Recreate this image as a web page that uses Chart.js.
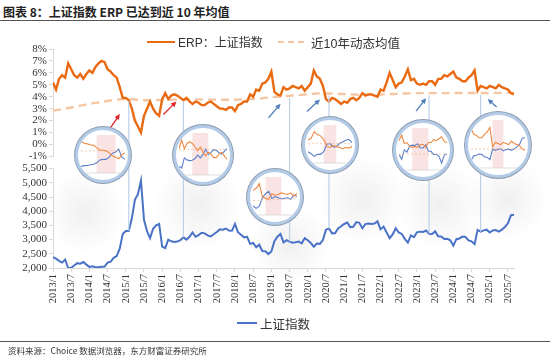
<!DOCTYPE html>
<html><head><meta charset="utf-8">
<script src="https://cdn.jsdelivr.net/npm/chart.js@4.4.1/dist/chart.umd.min.js"></script>
<style>
html,body{margin:0;padding:0;background:#fff;}
body{width:550px;height:359px;overflow:hidden;position:relative;font-family:"Liberation Serif",serif;}
.abs{position:absolute;}
#title{left:3px;top:3px;font:bold 12px "Noto Sans CJK SC","Liberation Sans",sans-serif;color:#222;white-space:nowrap;}
#tline{left:0;top:20px;width:550px;height:0;border-top:1.5px solid #555;}
#sline{left:0;top:341px;width:550px;height:0;border-top:1.5px solid #555;}
#source{left:8px;top:344px;font:8.5px "Noto Sans CJK SC","Liberation Sans",sans-serif;color:#333;white-space:nowrap;}
.leg{font:12.5px "Liberation Sans","Noto Sans CJK SC",sans-serif;color:#333;white-space:nowrap;}
.shadow{border-radius:50%;background:radial-gradient(closest-side,rgba(0,0,0,0.06),rgba(0,0,0,0.025) 60%,rgba(0,0,0,0));}
.circ{border-radius:50%;overflow:hidden;background:#fff;box-sizing:border-box;border:3px solid #b3cbe6;box-shadow:0 0 0 1px #8d9cb0;}
.circ canvas{position:absolute;left:0;top:0;}
</style>
</head><body>
<div id="title" class="abs">图表 8：上证指数 ERP 已达到近 10 年均值</div>
<div id="tline" class="abs"></div>

<div id="shadows"></div>
<canvas id="top" class="abs" width="550" height="125" style="left:0;top:40px;"></canvas>
<canvas id="bot" class="abs" width="550" height="150" style="left:0;top:160px;"></canvas>
<canvas id="ovl" class="abs" width="550" height="359" style="left:0;top:0;"></canvas>
<div id="circles"></div>

<div class="abs" style="left:147px;top:41px;width:28px;height:0;border-top:2.5px solid #ea6a12;"></div>
<div class="abs leg" style="left:178px;top:33px;font-size:12px;">ERP：上证指数</div>
<div class="abs" style="left:278px;top:41px;width:26px;height:0;border-top:2.5px dashed #f6c8a6;"></div>
<div class="abs leg" style="left:311px;top:33px;">近10年动态均值</div>

<div class="abs" style="left:237px;top:322px;width:20px;height:0;border-top:2px solid #4a72c6;"></div>
<div class="abs leg" style="left:260px;top:314px;">上证指数</div>

<div id="sline" class="abs"></div>
<div id="source" class="abs">资料来源：Choice 数据浏览器，东方财富证券研究所</div>

<script>
// ---------- data ----------
const months = [];
for (let y = 2013; y <= 2025; y++) for (let m = 1; m <= 12; m++) { if (y === 2025 && m > 9) break; months.push(y + '/' + m); }

const tickLabels = ['2013/1','2013/7','2014/1','2014/7','2015/1','2015/7','2016/1','2016/7','2017/1','2017/7',
  '2018/1','2018/7','2019/1','2019/7','2020/1','2020/7','2021/1','2021/7','2022/1','2022/7','2023/1','2023/7',
  '2024/1','2024/7','2025/1','2025/7'];

// ERP of SSE index, %
const erp = [
  5.2,4.6,5.5,5.8,5.6,6.8,6.3,5.8,5.6,5.9,5.5,5.9,
  6.2,6.0,6.5,6.8,7.0,6.9,6.3,6.1,5.8,5.6,4.8,3.9,
  3.9,3.7,3.0,2.0,1.5,1.0,2.4,3.0,3.6,3.0,2.6,2.4,
  3.8,4.3,3.8,4.1,4.2,4.1,3.9,3.7,3.9,3.6,3.4,3.6,
  3.5,3.3,3.3,3.5,3.6,3.4,3.2,3.0,3.0,2.9,3.1,3.1,
  2.8,3.3,3.4,3.6,3.6,4.2,4.0,4.6,4.5,5.1,5.2,5.5,
  6.1,4.4,4.2,4.1,4.8,4.6,4.7,4.9,4.8,4.7,4.9,4.5,
  4.8,5.1,6.2,5.7,5.5,4.9,3.8,3.6,3.9,3.8,3.6,3.4,
  3.6,3.5,3.8,3.9,3.7,3.9,4.3,4.1,4.2,4.2,4.1,4.0,
  4.6,4.5,5.2,6.0,5.4,4.8,5.1,5.2,5.7,6.3,5.4,5.5,
  5.1,5.0,5.1,5.0,5.3,5.3,5.0,5.5,5.5,5.8,5.7,5.9,
  6.1,5.6,5.5,5.3,5.3,5.6,5.8,6.2,4.5,4.9,4.8,4.7,
  4.9,4.8,4.7,5.0,4.8,4.7,4.6,4.3,4.2
];

// 10-year rolling mean of ERP, %
const erpMean = [
  2.85,2.88,2.92,2.96,3.00,3.05,3.10,3.15,3.20,3.25,3.30,3.35,
  3.40,3.44,3.48,3.52,3.56,3.60,3.64,3.68,3.72,3.75,3.78,3.80,
  3.80,3.80,3.79,3.77,3.75,3.72,3.70,3.70,3.71,3.71,3.72,3.72,
  3.73,3.74,3.74,3.75,3.76,3.76,3.77,3.77,3.77,3.77,3.77,3.77,
  3.77,3.77,3.77,3.76,3.76,3.76,3.76,3.75,3.75,3.75,3.75,3.75,
  3.75,3.76,3.77,3.78,3.79,3.80,3.81,3.83,3.85,3.87,3.90,3.93,
  3.96,3.98,4.00,4.02,4.04,4.06,4.08,4.10,4.12,4.14,4.16,4.18,
  4.20,4.22,4.25,4.27,4.28,4.28,4.28,4.27,4.26,4.25,4.24,4.23,
  4.22,4.21,4.20,4.19,4.18,4.17,4.16,4.16,4.16,4.16,4.17,4.18,
  4.19,4.20,4.21,4.22,4.23,4.24,4.25,4.26,4.27,4.28,4.29,4.30,
  4.30,4.30,4.30,4.30,4.30,4.30,4.30,4.30,4.30,4.30,4.30,4.30,
  4.31,4.31,4.31,4.31,4.31,4.31,4.31,4.31,4.31,4.31,4.31,4.31,
  4.32,4.32,4.32,4.32,4.32,4.32,4.32,4.32,4.32
];

// SSE Composite index
const sse = [
  2380,2330,2250,2190,2300,2000,2010,2090,2170,2150,2210,2120,
  2040,2060,2030,2030,2040,2050,2190,2220,2360,2420,2680,3200,
  3300,3300,3750,4400,4600,5080,3700,3300,3050,3380,3500,3550,
  2750,2700,3000,2940,2920,2930,2980,3080,3000,3100,3250,3100,
  3160,3240,3220,3150,3110,3190,3270,3360,3350,3390,3320,3310,
  3550,3260,3170,3080,3100,2850,2880,2730,2820,2600,2590,2490,
  2580,2940,3100,3200,2900,2980,2930,2890,2905,2930,2870,3050,
  2980,2880,2750,2860,2850,2985,3350,3395,3220,3225,3390,3470,
  3550,3600,3440,3450,3615,3590,3400,3545,3570,3550,3565,3640,
  3360,3460,3250,3050,3185,3400,3250,3200,3025,2895,3150,3090,
  3255,3280,3270,3320,3205,3200,3290,3120,3110,3020,3030,2975,
  2790,3015,3040,3105,3090,2970,2940,2840,3340,3280,3325,3350,
  3250,3320,3335,3280,3350,3445,3575,3860,3880
];

// magnified events (ERP crossing its 10-year mean)
const events = ['2015/2','2016/8','2019/7','2020/8','2023/5','2024/10'];

// ---------- helpers ----------
const pts = arr => arr.map((v, i) => ({x: i, y: v}));
const idx = lab => months.indexOf(lab);
const tickFont = {family: 'Liberation Serif', size: 11};
const axisCol = '#d9d9d9';
const last = months.length - 1;

const topChart = new Chart(document.getElementById('top'), {
  type: 'line',
  data: {datasets: [
    {label: 'ERP：上证指数', data: pts(erp), borderColor: '#ea6a12', borderWidth: 2.4, pointRadius: 0, tension: 0},
    {label: '近10年动态均值', data: pts(erpMean), borderColor: '#f6c6a2', borderWidth: 2.4, borderDash: [8, 5], pointRadius: 0}
  ]},
  options: {
    animation: false, responsive: false, events: [],
    layout: {padding: {top: 9, bottom: 8, left: 0, right: 36}},
    plugins: {legend: {display: false}, tooltip: {enabled: false}},
    scales: {
      x: {type: 'linear', min: 0, max: last, display: false},
      y: {min: -1, max: 8, afterFit: s => { s.width = 53; },
        ticks: {stepSize: 1, autoSkip: false, callback: v => v + '%', font: tickFont, color: '#333', padding: 2},
        grid: {drawOnChartArea: false, tickLength: 4, color: axisCol}, border: {color: axisCol}}
    }
  }
});

const botChart = new Chart(document.getElementById('bot'), {
  type: 'line',
  data: {datasets: [
    {label: '上证指数', data: pts(sse), borderColor: '#4a72c6', borderWidth: 2, pointRadius: 0, tension: 0}
  ]},
  options: {
    animation: false, responsive: false, events: [],
    layout: {padding: {top: 7, bottom: 0, left: 0, right: 36}},
    plugins: {legend: {display: false}, tooltip: {enabled: false}},
    scales: {
      x: {type: 'linear', min: 0, max: last,
        afterBuildTicks: s => { s.ticks = tickLabels.map(l => ({value: idx(l)})); },
        afterFit: s => { s.height = 42; },
        ticks: {minRotation: 90, maxRotation: 90, autoSkip: false, font: {family: 'Liberation Serif', size: 10.5}, color: '#333', padding: 2,
          callback: v => months[v]},
        grid: {drawOnChartArea: false, tickLength: 4, color: axisCol}, border: {color: axisCol}},
      y: {min: 2000, max: 5500, afterFit: s => { s.width = 53; },
        ticks: {stepSize: 500, autoSkip: false, callback: v => v.toLocaleString('en-US'), font: tickFont, color: '#333', padding: 2},
        grid: {drawOnChartArea: false, tickLength: 4, color: axisCol}, border: {color: axisCol}}
    }
  }
});

// ---------- decorations: connectors, arrows, lenses ----------
const TOP_OFF = 40, BOT_OFF = 160;
// arrow: tail (tx,ty) and tip (hx,hy) offsets from the crossing point
const lens = [
  {cx: 103, cy: 155, r: 28, w0: 17, w1: 31, b0: 22, b1: 28, arrow: {tx: -22, ty: 34, hx: -9, hy: 15, c: '#e0262b'}},
  {cx: 203, cy: 155, r: 30, w0: 36, w1: 54, b0: 41, b1: 47, arrow: {tx: -20, ty: 15, hx: -7, hy: 2, c: '#e0262b'}},
  {cx: 275, cy: 197, r: 28, w0: 70, w1: 84, b0: 74, b1: 79, arrow: {tx: -21, ty: 22, hx: -9, hy: 8, c: '#4f7fbf'}},
  {cx: 330, cy: 145, r: 28, w0: 84, w1: 98, b0: 89, b1: 93, arrow: {tx: -22, ty: 18, hx: -9, hy: 6, c: '#4f7fbf'}},
  {cx: 423, cy: 150, r: 30, w0: 116, w1: 134, b0: 121, b1: 127, arrow: {tx: -13, ty: 18, hx: -3, hy: 5, c: '#4f7fbf'}},
  {cx: 498, cy: 145, r: 33, w0: 132, w1: 152, b0: 140, b1: 144, arrow: {tx: 16, ty: 14, hx: 7, hy: 6, c: '#4f7fbf'}}
];

const shadowsEl = document.getElementById('shadows');
[[85, 212, 42], [198, 205, 45], [290, 245, 40], [362, 200, 45], [440, 205, 45], [508, 200, 40]].forEach(([x, y, r]) => {
  const d = document.createElement('div');
  d.className = 'abs shadow';
  d.style.cssText = `left:${x - r}px;top:${y - r}px;width:${2 * r}px;height:${2 * r}px;`;
  shadowsEl.appendChild(d);
});

const ov = document.getElementById('ovl').getContext('2d');
const tx = topChart.scales.x, ty = topChart.scales.y, by = botChart.scales.y;
function arrow(x0, y0, x1, y1, c) {
  ov.strokeStyle = c; ov.fillStyle = c; ov.lineWidth = 1.3;
  const a = Math.atan2(y1 - y0, x1 - x0), L = 6;
  ov.beginPath(); ov.moveTo(x0, y0); ov.lineTo(x1 - 3 * Math.cos(a), y1 - 3 * Math.sin(a)); ov.stroke();
  ov.beginPath(); ov.moveTo(x1, y1);
  ov.lineTo(x1 - L * Math.cos(a - 0.45), y1 - L * Math.sin(a - 0.45));
  ov.lineTo(x1 - L * Math.cos(a + 0.45), y1 - L * Math.sin(a + 0.45));
  ov.closePath(); ov.fill();
}
events.forEach((ev, k) => {
  const m = idx(ev);
  const x = tx.getPixelForValue(m);
  const yTop = ty.getPixelForValue(erpMean[m]) + TOP_OFF;
  const yBot = by.getPixelForValue(sse[m]) + BOT_OFF;
  ov.strokeStyle = '#bcd0e8'; ov.lineWidth = 1.2;
  ov.beginPath(); ov.moveTo(x, yTop + 2); ov.lineTo(x, yBot); ov.stroke();
  const a = lens[k].arrow;
  arrow(x + a.tx, yTop + a.ty, x + a.hx, yTop + a.hy, a.c);
});

// lenses: magnified views drawn from the same arrays
const circEl = document.getElementById('circles');
lens.forEach(L => {
  const d = document.createElement('div');
  d.className = 'abs circ';
  const s = 2 * L.r;
  d.style.cssText = `left:${L.cx - L.r}px;top:${L.cy - L.r}px;width:${s}px;height:${s}px;`;
  const c = document.createElement('canvas');
  c.width = s; c.height = s;
  c.style.left = '-3px'; c.style.top = '-3px';
  d.appendChild(c); circEl.appendChild(d);
  const sl = (arr) => arr.map((v, i) => ({x: i, y: v})).filter(p => p.x >= L.w0 && p.x <= L.w1);
  const eVals = erp.slice(L.w0, L.w1 + 1).concat(erpMean.slice(L.w0, L.w1 + 1));
  const sVals = sse.slice(L.w0, L.w1 + 1);
  const eMin = Math.min(...eVals), eMax = Math.max(...eVals);
  const sMin = Math.min(...sVals), sMax = Math.max(...sVals);
  new Chart(c, {
    type: 'line',
    data: {datasets: [
      {data: sl(erp), borderColor: '#ef8a45', borderWidth: 1.1, pointRadius: 0, yAxisID: 'e'},
      {data: sl(erpMean), borderColor: '#f6bf98', borderWidth: 0.8, borderDash: [2, 2], pointRadius: 0, yAxisID: 'e'},
      {data: sl(sse), borderColor: '#5b7fcb', borderWidth: 1.1, pointRadius: 0, yAxisID: 's'}
    ]},
    options: {
      animation: false, responsive: false, events: [],
      layout: {padding: {left: 6, right: 6, top: 12, bottom: 14}},
      plugins: {legend: {display: false}, tooltip: {enabled: false}},
      scales: {
        x: {type: 'linear', min: L.w0, max: L.w1, display: false},
        e: {min: eMin - (eMax - eMin) * 0.6, max: eMax + (eMax - eMin) * 0.15, display: false},
        s: {min: sMin - (sMax - sMin) * 0.15, max: sMax + (sMax - sMin) * 0.6, display: false}
      }
    },
    plugins: [{
      id: 'band',
      beforeDatasetsDraw(ch) {
        const g = ch.ctx, xs = ch.scales.x, a = ch.chartArea;
        g.save();
        g.fillStyle = 'rgba(244,204,204,0.55)';
        const x0 = xs.getPixelForValue(L.b0), x1 = xs.getPixelForValue(L.b1);
        g.fillRect(x0, a.top - 4, x1 - x0, a.bottom - a.top + 8);
        g.strokeStyle = '#c9c9c9'; g.lineWidth = 0.6;
        g.beginPath(); g.moveTo(a.left, a.bottom + 4); g.lineTo(a.right, a.bottom + 4); g.stroke();
        g.restore();
      }
    }]
  });
});
</script>
</body></html>
